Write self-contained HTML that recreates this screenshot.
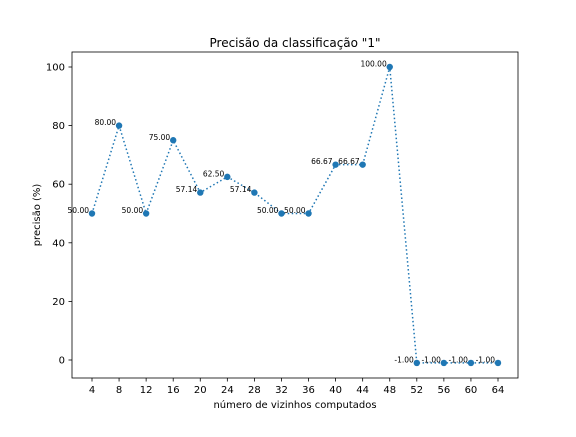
<!DOCTYPE html>
<html><head><meta charset="utf-8"><style>
body{margin:0;background:#fff}
svg text{font-family:"DejaVu Sans","Liberation Sans",sans-serif}
</style></head><body>
<svg id="chart" width="576" height="432" xmlns="http://www.w3.org/2000/svg">
<rect width="576" height="432" fill="#fff"/>
<text x="295" y="47" font-size="12" text-anchor="middle">Precisão da classificação "1"</text>
<g id="axes"></g>
<rect x="72" y="52" width="446" height="326" fill="none" stroke="#000" stroke-width="0.8"/>
<text x="295" y="408" font-size="10" text-anchor="middle">número de vizinhos computados</text>
<text transform="translate(40,215) rotate(-90)" font-size="10" text-anchor="middle">precisão (%)</text>
</svg>
<script>
const categories=[4,8,12,16,20,24,28,32,36,40,44,48,52,56,60,64];
const values=[50,80,50,75,57.14,62.5,57.14,50,50,66.67,66.67,100,-1,-1,-1,-1];
const xTicks=[4,8,12,16,20,24,28,32,36,40,44,48,52,56,60,64];
const yTicks=[0,20,40,60,80,100];
const NS="http://www.w3.org/2000/svg";
const g=document.getElementById('axes');
const xs=v=>92+(v-4)*(406/60);
const ys=v=>360-v*2.93;
function mk(t,a){const e=document.createElementNS(NS,t);for(const k in a)e.setAttribute(k,a[k]);g.appendChild(e);return e;}
xTicks.forEach(t=>{
  const l=mk('line',{x1:xs(t),x2:xs(t),y1:378,y2:381.5,stroke:'#000','stroke-width':0.8});
  
  
  const tx=mk('text',{x:xs(t),y:393,'font-size':10,'text-anchor':'middle'});tx.textContent=t;
  
  
});
yTicks.forEach(t=>{
  const l=mk('line',{x1:68.5,x2:72,y1:ys(t),y2:ys(t),stroke:'#000','stroke-width':0.8});
  
  
  const tx=mk('text',{x:65,y:ys(t)+3.5,'font-size':10,'text-anchor':'end'});tx.textContent=t;
  
  
});
const pts=categories.map((c,i)=>xs(c)+','+ys(values[i])).join(' ');
const pl=mk('polyline',{points:pts,fill:'none',stroke:'#1f77b4','stroke-width':1.5,'stroke-dasharray':'1.5,2.5'});


categories.forEach((c,i)=>{
  const p=mk('circle',{cx:xs(c),cy:ys(values[i]),r:3.2,fill:'#1f77b4'});
  
  
  const tx=mk('text',{x:xs(c)-3,y:ys(values[i])-0.5,'font-size':7.5,'text-anchor':'end'});
  tx.textContent=values[i].toFixed(2);
  
  
});
</script>
</body></html>
